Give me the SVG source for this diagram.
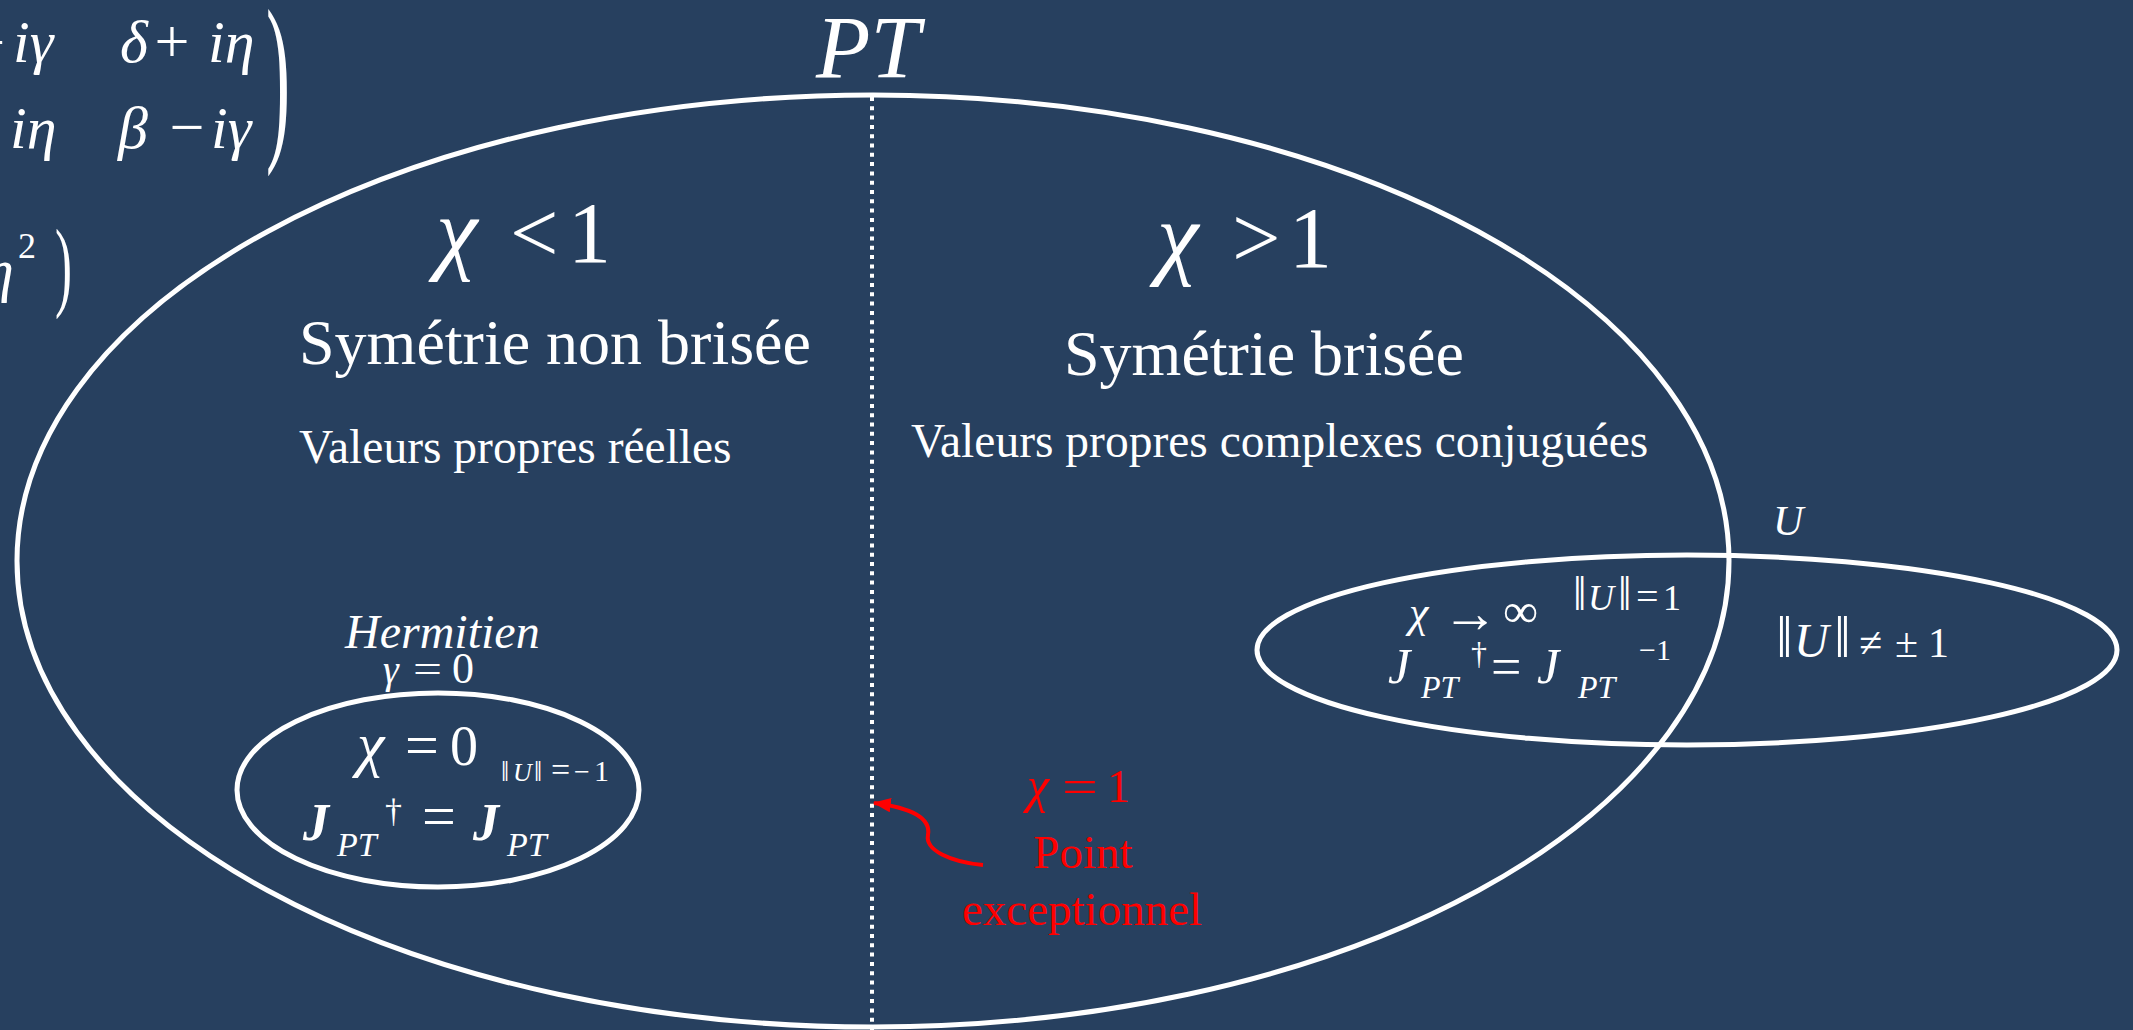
<svg xmlns="http://www.w3.org/2000/svg" width="2133" height="1030" viewBox="0 0 2133 1030">
<defs>
<marker id="ah" markerWidth="4.5" markerHeight="3.6" refX="4.2" refY="1.8" orient="auto" markerUnits="strokeWidth">
<path d="M0,0 L4.5,1.8 L0,3.6 Z" fill="#ff0000"/>
</marker>
<style>
.w{fill:#ffffff;font-family:'Liberation Serif','Times New Roman','DejaVu Serif',serif}
.r{fill:#ff0000;font-family:'Liberation Serif','Times New Roman',serif}
.i{font-style:italic}
.b{font-weight:bold}
.el{fill:none;stroke:#ffffff;stroke-width:5}
</style>
</defs>
<rect width="2133" height="1030" fill="#27405f"/>

<g id="matrix">
<text class="w" font-size="60" x="5" y="62" text-anchor="end">+</text>
<text class="w i" font-size="60" x="13" y="62">iγ</text>
<text class="w i" font-size="60" x="120" y="62">δ</text>
<text class="w" font-size="62" x="172" y="62" text-anchor="middle">+</text>
<text class="w i" font-size="60" x="208" y="62">iη</text>
<text class="w i" font-size="60" x="10" y="148">iη</text>
<text class="w i" font-size="60" x="118" y="148">β</text>
<text class="w" font-size="62" x="187" y="148" text-anchor="middle">−</text>
<text class="w i" font-size="60" x="211" y="148">iγ</text>
<text class="w" font-size="80" transform="translate(266,137) scale(0.9,2.3)">)</text>
<text class="w i" font-size="60" x="-16" y="290">η</text>
<text class="w" font-size="36" x="18" y="258">2</text>
<text class="w" font-size="60" transform="translate(55,298) scale(0.85,1.65)">)</text>
</g>

<g id="node-pt">
<ellipse class="el" cx="873" cy="561" rx="856" ry="466"/>
<text class="w i" font-size="89" x="868" y="77" text-anchor="middle">PT</text>
<text class="w i" font-size="94" x="436" y="262">χ</text>
<text class="w" font-size="86" x="510" y="262">&lt;</text>
<text class="w" font-size="86" x="568" y="262">1</text>
<text class="w" font-size="64" x="299" y="364">Symétrie non brisée</text>
<text class="w" font-size="47.5" x="299" y="463">Valeurs propres réelles</text>
<text class="w i" font-size="94" x="1157" y="267">χ</text>
<text class="w" font-size="86" x="1232" y="267">&gt;</text>
<text class="w" font-size="86" x="1289" y="267">1</text>
<text class="w" font-size="64" x="1064" y="375">Symétrie brisée</text>
<text class="w" font-size="47.5" x="911" y="457">Valeurs propres complexes conjuguées</text>
</g>

<g id="divider">
<line x1="872" y1="97" x2="872" y2="1030" stroke="#ffffff" stroke-width="4" stroke-dasharray="4 5.3"/>
</g>

<g id="node-hermitien">
<ellipse class="el" cx="438" cy="790" rx="201" ry="97"/>
<text class="w i" font-size="48" x="345" y="648">Hermitien</text>
<text class="w i" font-size="40" x="383" y="683">γ</text>
<text class="w" font-size="40" x="413" y="683" textLength="29" lengthAdjust="spacingAndGlyphs">=</text>
<text class="w" font-size="44" x="452" y="683">0</text>
<text class="w i" font-size="62" x="357" y="765">χ</text>
<text class="w" font-size="60" x="405" y="765">=</text>
<text class="w" font-size="56" x="450" y="765">0</text>
<text class="w" font-size="30" y="781"><tspan x="501" font-size="29">‖</tspan><tspan x="513" class="i" font-size="26">U</tspan><tspan x="534" font-size="29">‖</tspan><tspan x="551" font-size="34">=</tspan><tspan x="574" font-size="28">−</tspan><tspan x="594">1</tspan></text>
<text class="w i b" font-size="52" x="303" y="840">J</text>
<text class="w i" font-size="34" x="337" y="856">PT</text>
<text class="w" font-size="34" x="385" y="822">†</text>
<text class="w" font-size="60" x="422" y="836">=</text>
<text class="w i b" font-size="52" x="473" y="840">J</text>
<text class="w i" font-size="34" x="507" y="856">PT</text>
</g>

<g id="node-u">
<ellipse class="el" cx="1687" cy="650" rx="430" ry="95"/>
<text class="w i" font-size="42" x="1773" y="535">U</text>
<text class="w i" font-size="44" x="1409" y="627">χ</text>
<text class="w" font-size="56" x="1470" y="632" text-anchor="middle">→</text>
<text class="w" font-size="48" x="1503" y="627" textLength="35" lengthAdjust="spacingAndGlyphs">∞</text>
<text class="w" font-size="36" y="610"><tspan x="1573" font-size="48">‖</tspan><tspan x="1588" class="i">U</tspan><tspan x="1618" font-size="48">‖</tspan><tspan x="1636" font-size="40">=</tspan><tspan x="1663">1</tspan></text>
<text class="w i" font-size="50" x="1388" y="683">J</text>
<text class="w i" font-size="32" x="1421" y="698">PT</text>
<text class="w" font-size="32" x="1471" y="664">†</text>
<text class="w" font-size="54" x="1491" y="685">=</text>
<text class="w i" font-size="50" x="1537" y="683">J</text>
<text class="w i" font-size="32" x="1578" y="698">PT</text>
<text class="w" font-size="30" x="1639" y="660">−1</text>
<text class="w" font-size="42" y="657"><tspan x="1776" font-size="60">‖</tspan><tspan x="1794" class="i" font-size="48">U</tspan><tspan x="1834" font-size="60">‖</tspan><tspan x="1859">≠</tspan><tspan x="1895">±</tspan><tspan x="1928">1</tspan></text>
</g>

<g id="node-exceptionnel">
<text class="r i" font-size="50" x="1027" y="802">χ</text>
<text class="r" font-size="46" x="1062" y="802" textLength="36" lengthAdjust="spacingAndGlyphs">=</text>
<text class="r" font-size="46" x="1107" y="802">1</text>
<text class="r" font-size="47" x="1083" y="868" text-anchor="middle">Point</text>
<text class="r" font-size="47" x="1082" y="925" text-anchor="middle">exceptionnel</text>
</g>

<g id="connectors">
<path d="M983,865 C950,862 925,850 928,835 C931,818 912,808 874,803" fill="none" stroke="#ff0000" stroke-width="4" marker-end="url(#ah)"/>
</g>
</svg>
